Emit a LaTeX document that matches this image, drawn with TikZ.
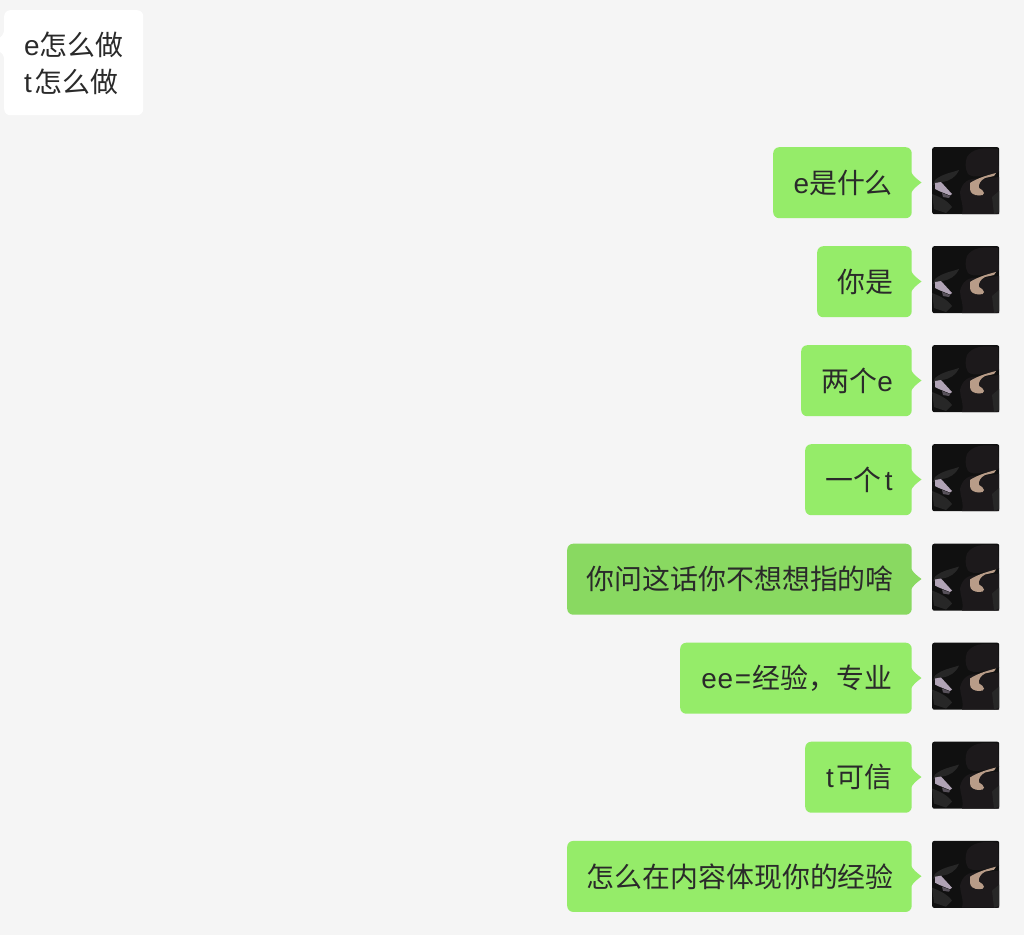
\documentclass[tikz,border=0pt]{standalone}
\usepackage{fontspec}
\setmainfont{Noto Sans CJK SC}
\newfontfamily\lat{Liberation Sans}
\definecolor{pagebg}{HTML}{F5F5F5}
\definecolor{mine}{HTML}{95EC69}
\definecolor{minedark}{HTML}{89D961}
\definecolor{ink}{HTML}{2A2A2A}
\definecolor{avbase}{HTML}{101010}
\definecolor{avhair}{HTML}{1C191B}
\definecolor{avcoat}{HTML}{272727}
\definecolor{avphone}{HTML}{B0A3B5}
\definecolor{avskin}{HTML}{B89C88}
\tikzset{
  bubbletext/.style={font=\fontsize{27.9}{37}\selectfont, text=ink, inner sep=0pt},
  bubblebox/.style={rounded corners=6pt, inner sep=0pt, anchor=north west},
  avatarbox/.style={fill=avbase, rounded corners=2pt, minimum width=67pt, minimum height=67pt, inner sep=0pt, anchor=north west},
}
% #1 name, #2 left, #3 top, #4 text, #5 colour
\newcommand{\minebubble}[5]{%
  \pgfmathsetmacro{\bw}{911.5-#2}%
  \fill[#5] (905,#3+23) -- (911,#3+25) .. controls (913,#3+29) and (918,#3+33) .. (921.5,#3+35.5)
     .. controls (918,#3+38) and (913,#3+42) .. (911,#3+46) -- (905,#3+48) -- cycle;
  \node[bubblebox, fill=#5, minimum width=\bw pt, minimum height=71pt] (#1box) at (#2,#3) {};
  \node[bubbletext, xshift=0.8pt] (#1text) at (#1box.center) {#4};
  \node[avatarbox] (#1av) at (932,#3) {};
  \begin{scope}[shift={(932,#3)}]
    \fill[avcoat] (3,33) .. controls (10,27) and (18,26) .. (27,23) .. controls (24,30) and (18,34) .. (10,35) -- (1,38) -- cycle;
    \fill[avcoat] (0,47) .. controls (8,50) and (16,54) .. (20,60) -- (14,66) -- (2,62) -- cycle;
    \fill[avhair] (35,10) .. controls (40,2) and (50,0) .. (66,2) -- (67,25) -- (62,27) .. controls (52,28) and (42,32) .. (36,27) .. controls (33,22) and (33,15) .. (35,10) -- cycle;
    \fill[avhair] (28,45) .. controls (30,36) and (36,30) .. (48,32) -- (67,30) -- (67,67) -- (30,67) .. controls (32,58) and (28,52) .. (28,45) -- cycle;
    \fill[avcoat] (60,50) -- (67,44) -- (67,65) -- (62,67) -- cycle;
    \fill[avskin] (38,36) .. controls (44,32) and (52,29) .. (64,26) -- (62,29) -- (53,31) .. controls (49,33) and (46,37) .. (47,41) .. controls (50,42) and (51,44) .. (52,46) .. controls (52,48) and (50,48.5) .. (47,48.5) .. controls (42,48.5) and (38,46) .. (38,42) -- cycle;
    \fill[avphone] (3,36) -- (9,35) -- (20,47) -- (18,48.5) -- (7,44) -- (3,42) -- cycle;
    \fill[avphone!50!black] (10,46) -- (18,49) -- (17,51) -- (11,50) -- cycle;
  \end{scope}
}
\begin{document}
\begin{tikzpicture}[x=1pt,y=-1pt]
\useasboundingbox (0,0) rectangle (1024,935);
\fill[pagebg] (0,0) rectangle (1024,935);
% left bubble
\fill[white] (8,28) -- (4,31) .. controls (3,35) and (2,36) .. (0,37.5) -- (0,52) .. controls (2,53) and (3,54) .. (4,58) -- (8,60) -- cycle;
\node[bubblebox, fill=white, minimum width=139pt, minimum height=105pt] (lbox) at (4,10) {};
\node[bubbletext, align=left, anchor=west] (ltext) at (24,63.5) {{\lat e}怎么做\\{\lat t}\kern3pt 怎么做};
% right bubbles
\minebubble{a}{773}{147}{{\lat e}是什么}{mine}
\minebubble{b}{817}{246}{你是}{mine}
\minebubble{c}{801}{345}{两个{\lat e}}{mine}
\minebubble{d}{805}{444}{一个\kern3pt{\lat t}}{mine}
\minebubble{e}{567}{543.5}{你问这话你不想想指的啥}{minedark}
\minebubble{f}{680}{642.5}{{\lat e\kern.8pt e\kern1.5pt =\kern1.5pt}经验，专业}{mine}
\minebubble{g}{805}{741.5}{{\lat t}\kern2.5pt 可信}{mine}
\minebubble{h}{567}{840.7}{怎么在内容体现你的经验}{mine}
\end{tikzpicture}
\end{document}
